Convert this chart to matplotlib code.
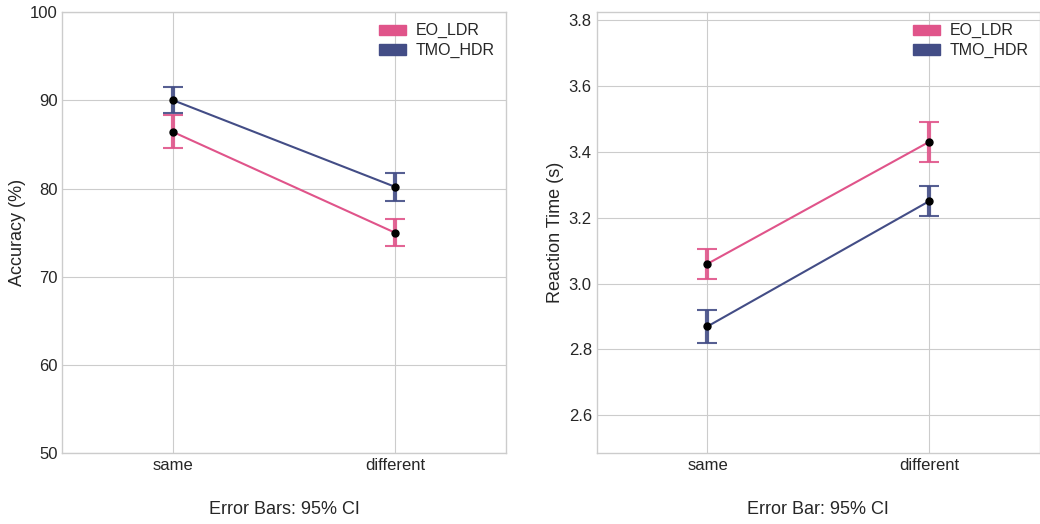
import numpy as np
import matplotlib.pyplot as plt

plt.style.use('seaborn-v0_8-whitegrid')
plt.rcParams['font.family'] = ['Liberation Sans', 'DejaVu Sans']

conditions = ['same', 'different']
groups = ['EO_LDR', 'TMO_HDR']
colors = ['#e0548a', '#434d86']

acc_mean = {'EO_LDR': [86.4, 75.0], 'TMO_HDR': [90.0, 80.2]}
acc_low = {'EO_LDR': [84.6, 73.5], 'TMO_HDR': [88.6, 78.6]}
acc_high = {'EO_LDR': [88.3, 76.5], 'TMO_HDR': [91.5, 81.8]}

rt_mean = {'EO_LDR': [3.06, 3.43], 'TMO_HDR': [2.87, 3.25]}
rt_low = {'EO_LDR': [3.015, 3.37], 'TMO_HDR': [2.82, 3.205]}
rt_high = {'EO_LDR': [3.105, 3.49], 'TMO_HDR': [2.92, 3.295]}


def draw_panel(ax, mean, low, high, ylabel, xlabel):
    x = np.arange(len(conditions))
    for g, c in zip(groups, colors):
        m = np.array(mean[g])
        err = np.array([m - np.array(low[g]), np.array(high[g]) - m])
        ax.plot(x, m, color=c, lw=1.5, label=g)
        ax.errorbar(x, m, yerr=err, fmt='none', ecolor=c, elinewidth=3,
                    capsize=7, capthick=1.5, alpha=0.9)
        ax.scatter(x, m, color='black', s=25, zorder=5)
    ax.set_xticks(x)
    ax.set_xticklabels(conditions)
    ax.set_xlim(-0.5, 1.5)
    ax.set_ylabel(ylabel, fontsize=13, color='#262626', labelpad=3)
    ax.set_xlabel(xlabel, fontsize=13, labelpad=20, color='#262626')
    ax.tick_params(labelsize=12, labelcolor='#262626')
    for s in ax.spines.values():
        s.set_visible(True)
        s.set_color('#cccccc')
    handles = [plt.Rectangle((0, 0), 1, 1, color=c) for c in colors]
    ax.legend(handles, groups, loc='upper right', frameon=False,
              fontsize=11.5, handlelength=1.7, handleheight=0.6,
              handletextpad=0.6, borderaxespad=0.3, labelspacing=0.3)


fig, (ax1, ax2) = plt.subplots(1, 2, figsize=(10.4, 5.24), dpi=100)
draw_panel(ax1, acc_mean, acc_low, acc_high, 'Accuracy (%)', 'Error Bars: 95% CI')
ax1.set_ylim(50, 100)
ax1.set_yticks([50, 60, 70, 80, 90, 100])
draw_panel(ax2, rt_mean, rt_low, rt_high, 'Reaction Time (s)', 'Error Bar: 95% CI')
ax2.set_ylim(2.485, 3.824)
ax2.set_yticks([2.6, 2.8, 3.0, 3.2, 3.4, 3.6, 3.8])

plt.subplots_adjust(left=0.06, right=1.0, top=0.977, bottom=0.135, wspace=0.205)
fig.savefig('out.png', dpi=100)
